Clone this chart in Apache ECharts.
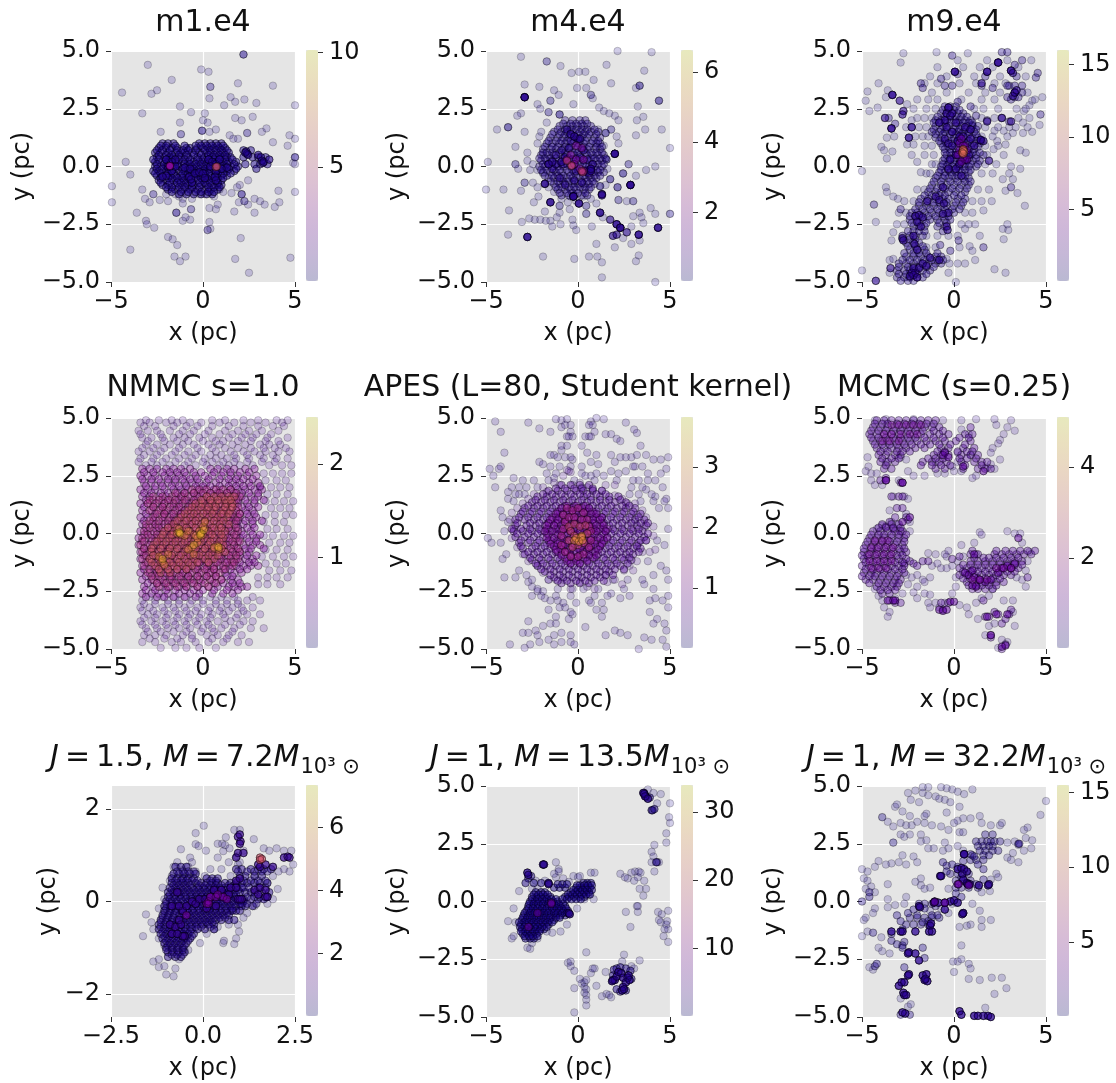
<!DOCTYPE html>
<html><head><meta charset="utf-8">
<style>html,body{margin:0;padding:0;background:#fff}#c{width:1116px;height:1083px}#c canvas{filter:blur(.55px)}</style>
<script src="https://cdn.jsdelivr.net/npm/echarts@6/dist/echarts.min.js"></script>
</head><body><div id="c"></div>
<script>
// ---------- values: flat x,y lists, or rows [y, x, x, ...] ----------
const m1Sparse=[-3,4.4,-.1,4.2,.3,4.1,2.2,4.85,2.2,4.85,2.2,4.85,-1.7,3.75,1.9,3.6,3.8,3.5,-4.4,3.2,-2.8,3.15,-2.5,3.3,.4,3.45,.4,3.45,.35,2.95,1.5,3,1.75,2.8,2.25,2.9,2.9,2.75,1.15,2.65,5,2.65,-1.25,2.6,-3.3,2.3,-.65,2.35,.1,2.3,2.7,2.15,1.75,2.1,2.1,2,0,2,.25,1.9,-1.25,1.9,-.05,1.55,-.05,1.55,-.05,1.55,.7,1.6,.35,1.5,-2.3,1.5,-1.2,1.4,-1.2,1.4,2.4,1.45,2.4,1.45,3.2,1.5,3.45,1.65,4.7,1.35,5,1.2,3.8,1.05,4.6,.9,1.45,1.35,1.9,1.2,1.65,1.2,-4.2,.2,-3.95,-.35,-4.95,-.85,-4.95,-1.55,-3.3,-1,-3.15,-1.4,-2.9,-1.55,-3.6,-2,-2.7,-1.2,-2.7,-1.2,-2.35,-1.45,-1.9,-1.5,-1.45,-2,-1.45,-2,-1.45,-2,-.65,-1.85,-.65,-1.85,-1.1,-2.35,-.7,-2.3,-.95,-2.2,-3.1,-2.35,-3.05,-2.5,-2.65,-2.65,.35,-2.4,.4,-2.7,.25,-2.75,.25,-2.75,-3.95,-3.6,-1.9,-3.05,-1.65,-3.15,-1.4,-3.4,-1.55,-3.9,-.95,-3.9,-1.25,-4.1,2.05,-3.1,1.75,-4,2.5,-4.6,4.75,-3.95,1.7,-1.95,2.8,-2,2.45,-1.65,2.1,-1.2,2.1,-1.2,2.1,-1.2,2.25,-1.5,2.25,-1.5,1.95,-1.55,2.8,-1.4,3.1,-1.5,3.35,-1.65,3.9,-1.75,4.15,-1.55,4.1,-1.05,5,-1.1,2.45,-.6,2,-.8,1.85,-.9,1.55,-1.15,1.1,-1.1,.8,-1.65,.7,-1.85,.35,-1.8,5,.4,5,.4,5,.4,4.9,.15,5,.1,-1.5,-1.2,-1.3,-1.3,-1.1,-1.4,-.9,-1.1,-.6,-1.4,-.2,-1.2,.1,-1.2,.4,-1.1,.6,-1.3,-2,-1.2,-1.7,-1,-1.1,-1.6,-.6,-.95,.9,-1];
const m1Rows=[[1,-2.2,-1.9,-1.6,-.2,.1,.4,.7,1],[.8,-2.4,-2,-1.7,-1.4,-.9,-.7,-.3,0,.3,.6,.9,1.2],[.6,-2.6,-2.3,-1.9,-1.5,-1.2,-1,-.6,-.2,.2,.4,.8,1.1,1.4],[.4,-2.5,-2.1,-1.8,-1.6,-1.2,-.8,-.3,.1,.5,.7,1,1.3,1.5],[.2,-2.6,-2.2,-1.9,-1.5,-1.1,-.8,-.5,-.2,.1,.4,.8,1.1,1.4,1.8],[0,-2.6,-2.3,-2,-1.6,-1.3,-.9,-.6,-.3,0,.3,.6,.9,1.2,1.5,1.9],[-.2,-2.7,-2.4,-2,-1.7,-1.3,-1,-.7,-.4,0,.2,.6,.9,1.3,1.7],[-.4,-2.5,-2.2,-1.8,-1.5,-1.2,-.9,-.5,-.2,.1,.4,.7,1,1.3],[-.6,-2.4,-2,-1.6,-1.3,-1,-.7,-.3,0,.3,.6,1],[-.8,-2.2,-1.9,-1.5,-1.1,-.8,-.5,-.1,.2,.5,.8,1],[-1,-1.9,-1.5,-1.1,-.7,-.3,.1,.4,.8],[-1.2,-1.3,-.9,-.5,-.1,.2,.5],[.7,2.2,2.6],[.4,2.2,2.7,3,3.4],[.1,2.3,2.8,3.1,3.5],[-.1,2.9]];
const m1Rows2=[[.9,-2.3,-2,-1.5,-1,-.4,-.1,.2,.5,.8,1.1],[.7,-2.5,-2.2,-1.8,-1.4,-1.1,-.8,-.4,.1,.4,.7,1,1.3],[.5,-2.4,-2,-1.7,-1.3,-.9,-.5,-.1,.3,.6,.9,1.2],[.3,-2.7,-2.4,-2,-1.7,-1.3,-1,-.7,-.3,0,.3,.6,.9,1.2,1.6],[.1,-2.5,-2.1,-1.8,-1.4,-1,-.7,-.4,-.1,.2,.5,.7,1,1.3,1.7],[-.1,-2.5,-2.2,-1.9,-1.5,-1.1,-.8,-.5,-.2,.1,.4,.7,1.1,1.4,1.8],[-.3,-2.6,-2.3,-1.9,-1.6,-1.1,-.8,-.6,-.3,.1,.3,.8,1.1,1.5],[-.5,-2.3,-1.9,-1.7,-1.4,-1.1,-.8,-.4,-.1,.2,.5,.8,1.1],[-.7,-2.3,-1.8,-1.4,-1.2,-.9,-.6,-.2,.1,.4,.8],[-.9,-2,-1.7,-1.3,-1,-.6,-.2,.3,.6,.9],[-1.1,-1.7,-1.2,-.8,-.4,-.1,.3,.6]];
const m1Clump=[-2,.3,-1.9,0,-1.7,.2,-1.5,.3,-1.7,-.2,-2,-.4,-1.5,0,-2.2,-.45,-1,-.05,-.7,-.1,-.75,-.45,-.6,-.7,-.65,-.55,-.45,-.3,-.2,-.25,0,-.3,.1,-.5,.3,.3,.4,0,.5,.2,.7,.1,.7,-.2,.65,-.45,.7,-.6,1.3,-.05,1,-.1,.9,.3,2.35,.65,2.4,.55,2.45,.5,2.3,.6,3,.5,3.15,.4,3.2,.25,3.25,.15,3.3,.2,3.6,.3];
const m1Hot=[-1.8,.02,-1.8,.02,-1.8,.02];
const m1Hot2=[.7,-.02,.75,0];

const m4Sparse=[-3.1,4.75,-1.7,4.55,-1.7,4.55,-.95,4.35,-.35,4.05,.05,4.1,.4,4.1,1.55,4.4,2.15,5,4,4.95,3.6,4.15,-2.9,3.55,-2.1,3.45,-1.3,3.3,-1.05,3.1,-.05,3.4,.45,3.4,.85,3.75,1.8,3.6,3.35,3.5,3.35,3.5,3.35,3.5,3.15,3.4,.7,3.1,.7,3.1,.8,2.95,-1.5,2.85,-1.5,2.85,4.4,2.85,4.4,2.85,4.4,2.85,-2.2,2.7,-2.05,2.5,-1.6,2.35,-1.6,2.35,-.25,2.7,1.15,2.55,1.4,2.4,1.7,2.3,2,2.2,2.2,2,3.25,2.6,-3.1,2.3,-3.3,2.2,3.2,2,3.55,2.15,-1,2.25,-1,2.25,-1,2.25,-4.4,1.6,-3.8,1.7,-3.8,1.7,-3.8,1.7,-2.9,1.5,3.65,1.6,3.15,1.35,4.55,1.6,5,.8,2.1,1.3,2.2,1,1.8,1.6,1.8,1.6,1.5,1.45,1.5,1.45,1.5,1.45,-3.4,.85,-2.75,.6,-4.9,.2,-3.4,.1,-3.4,.1,-3.25,-.1,-2.75,.25,-2.45,.1,-2.6,-.15,-2.2,-.15,4.2,0,3.7,-.15,3.15,-.4,2.75,.1,2.75,.1,2.45,-.3,2.45,-.3,2.45,-.3,1.55,.3,1.55,.3,1.55,.3,1.75,-.55,1.75,-.55,1.75,-.55,2.15,-.9,2.15,-.9,2.15,-.9,2.2,-1.45,2.2,-1.45,3,-1.5,3,-1.5,2.65,-1.5,1.2,-.85,1.2,-.85,1.2,-.85,-5,-1,-4.05,-1,-3.1,-1.05,-2.9,-.7,-2.9,-.7,-2.45,-.7,-2.2,-.9,-2.4,-1.55,-2.15,-1.3,-3.75,-1.9,-1,-1.7,-1,-1.7,-.55,-1.55,-.45,-1.85,.45,-1.7,.45,-1.7,-1.8,-1.95,-1,-2,-1.15,-2.2,-1.5,-2.35,-1.75,-2.35,-2.05,-2.3,-2.35,-2.3,-2.65,-2.25,-3.05,-2.4,-1.4,-2.6,-.95,-2.5,-.3,-2.3,-.25,-2.55,-.1,-2.75,.75,-2.6,.45,-2.05,.45,-2.05,1.35,-2.2,2.45,-3.1,2.9,-2.6,3,-2.15,3.35,-2,3.45,-2.2,3.55,-2.45,3.95,-1.8,4.2,-2.05,5,-2.05,5,-2.05,3.35,-3.2,-3.8,-2.95,1,-3.35,2,-3.5,2.9,-3.35,3.3,-3.85,3.15,-4.1,-1.9,-3.9,-.2,-4,.6,-3.9,1.05,-3.9,1.3,-4.15,1.3,-4.8,4.2,-5,-1.3,-1.1,-.9,-1.4,-.4,-1.3,-.1,-1.5,.3,-1.3,.7,-1.4,1,-1.6,-1.6,-.9,-1.9,-.3,-1.9,.5,-2.2,1,-2.1,1.3,-2,1.5,-1.7,1.9,1.4,.9,1.1,1.6,1.6,-.1,1.5,-.8];
const m4Rows=[[2,-.7,-.3,.1,.4],[1.75,-1,-.6,-.3,0,.3,.7],[1.5,-1.3,-.9,-.6,-.3,.1,.4,.7,1.1],[1.25,-1.5,-1.1,-.8,-.5,-.1,.2,.5,.9,1.2],[1,-1.7,-1.4,-1,-.7,-.3,0,.3,.7,1,1.2],[.75,-1.9,-1.5,-1.2,-.8,-.5,-.1,.2,.5,.9,1.2],[.5,-2,-1.6,-1.3,-.9,-.6,-.2,.1,.5,.8,1.1,1.4],[.25,-2,-1.7,-1.4,-1,-.7,-.4,0,.3,.6,1,1.3],[0,-2.1,-1.8,-1.4,-1.1,-.8,-.4,-.1,.3,.6,.9,1.3],[-.25,-1.9,-1.5,-1.2,-.9,-.5,-.2,.2,.5,.8,1.1,1.4],[-.5,-1.6,-1.3,-.9,-.6,-.3,.1,.4,.7,1],[-.75,-1.3,-1,-.7,-.3,0,.3,.6,.9],[-1,-1.1,-.7,-.4,-.1,.3,.6],[-1.25,-.9,-.5,-.2,.2,.5]];
const m4Rows2=[[1.85,-.8,-.4,-.1,.2,.5],[1.6,-1.1,-.7,-.4,-.1,.2,.5,.9],[1.4,-1.4,-1,-.7,-.4,0,.3,.6,1],[1.1,-1.6,-1.2,-.9,-.6,-.2,.1,.4,.8,1.1],[.85,-1.8,-1.4,-1.1,-.7,-.4,0,.3,.6,1,1.3],[.6,-1.9,-1.7,-1.4,-1,-.7,-.3,0,.4,.7,1,1.3],[.35,-2.1,-1.8,-1.5,-1.2,-.8,-.5,-.1,.2,.7,.9,1.2,1.5],[.1,-1.9,-1.6,-1.2,-.9,-.6,-.2,.1,.4,.8,1.1,1.4],[-.15,-2,-1.7,-1.3,-1,-.6,-.3,0,.4,.7,1,1.2],[-.4,-1.8,-1.4,-1.1,-.8,-.4,-.1,.3,.6,.9,1.2],[-.65,-1.5,-1.1,-.8,-.5,-.2,.2,.5,.8],[-.9,-1.2,-.9,-.5,-.2,.1,.4,.7],[-1.15,-1,-.6,-.3,0,.4]];
const m4Clump=[-1.6,.1,-1.4,-.1,-1.2,.5,-1,-.5,-.9,.7,-.8,.1,-.7,-.8,-.6,1.6,-.5,.8,-.4,1.1,-.3,.3,-.2,1.3,-.2,-.6,0,1.2,.1,.4,.2,-.7,.3,.7,.4,-.2,.6,-.3,.7,-.1,.8,.1,-.1,-.2,-1.2,.1,.5,.3];
const m4Dark=[-2.9,3,-2.9,3,-2.9,3,2,.55,2,.55,2,.55,2.85,-.8,2.85,-.8,2.85,-.8,1.3,-1.2,1.3,-1.2,1.3,-1.25,-1.8,-.75,-1.8,-.75,-1.5,-1.55,-1.5,-1.55,-.25,-1.3,-.25,-1.3,-.25,-1.3,.05,-1.6,.05,-1.6,1.2,-2,1.2,-2,1.75,-2.3,2.1,-2.5,2.1,-2.5,2.3,-2.65,2.3,-2.65,2.3,-2.65,2.65,-2.85,1.9,-3,2.1,-2.95,3.3,-2.95,3.3,-2.95,4.35,-2.65,4.35,-2.65,-2.75,-3.05,-2.75,-3.05,-.4,1.4,-.2,1.3,.1,1.2,-.7,.4,-.9,.2,-1.6,.1,-1.4,.2,.7,-.1,.7,-.2];
const m4Hot=[-.6,.3,-.4,.5,-.2,.1,.2,.8,-.1,.3,.1,-.1,.3,.3,.3,-.2,-.1,.9];
const m4Hot2=[-.35,.05,-.35,.02,.25,-.25,.2,-.2,-.6,.25];

const m9Sparse=[-2.75,4.9,-2.9,4.5,-.95,4.95,.75,4.9,-4.1,3.6,-4.7,3.25,-4.8,2.85,-4.6,2.4,-4.15,2.55,-3.6,3.3,-3.7,3,-2.55,2.7,-2.3,2,-3.65,1.25,-3.25,1.3,-3.95,.85,-3.8,.7,-3.65,.35,-3.35,.65,-2.55,.95,-2.2,.95,-2.3,.5,-2,.2,-1.8,-.25,-5,-.2,4.2,4.6,4.8,3,4.65,1.8,4.25,2.85,4.1,2.65,3.8,2.4,3.75,1.9,3.35,1.7,3.2,1.45,3.75,1.45,4.25,1.5,3.6,.7,3.9,.6,2.7,1.55,2.2,1.55,2.35,1.1,2.8,.95,2.15,.75,3.1,0,3.6,-.1,3,-.3,2.65,-.55,3.2,-.55,2.8,-1.05,3.45,-1.15,3.85,-1.7,2.05,-1.5,1.6,-1.9,1.15,-2.5,.6,-2.7,2.65,-2.7,2.95,-2.75,2.9,-2.5,2.7,-3.15,1.4,-3,.85,-3.45,1,-3.65,1.15,-4.05,.6,-4.2,.2,-4.2,-.25,-4.2,2.2,-4.45,2.8,-4.6,.1,-5,-3.7,-.9,-3.65,-1.1,-3.3,-1.3,-3.05,-1.4,-4.25,-2.4,-3.3,-2.85,-3.4,-3.2,-3.5,-4.05,-5,-4.5];
const m9SparseRows=[[4.6,.2,1.8,2.9],[4.3,-.9,.5,1.4,2.1,3.5],[3.9,-1.3,-.4,1.1,2.5,3.9],[3.6,-1.6,-.9,.3,1.2,2.2,2.8],[3.2,-1.2,-.4,.8,1.7,2.5,4],[2.9,-2,-1.4,-.9,.4,1.5,2.2,4.4],[2.5,-2.2,-1.5,-1,1.1,1.6,2.4,3.4,3.9],[2.1,-2,-1.6,-1.2,1.5,2.2,3.5,4.1],[1.7,-2.6,-1.9,-1.5,1.7,2.4,3,4],[1.3,-2.1,-1.7,-1.4,1.5,2.1,2.9],[.9,-1.6,-1.2,1.7,2.4],[.5,-1.6,-1.1,1.8,2.7],[.1,-1.2,-1,1.7,2.3],[-.3,-1.5,-1.3,1.5,2.1],[-1,-2,-1.6,1.3,1.9],[-1.5,-2.7,-2.2,1,1.5],[-2,-3,-2.6,.6,1],[-2.5,-3.1,-2.7,.4,.8],[-3,-1.5,-.9,-.3,.2],[-3.5,-1.5,-1,.3],[-4,-3.3,-.4],[-4.6,-3.5,-.3]];
const m9Mid=[-.1,4.8,3.7,4.6,4.55,4.05,4.45,3.85,4.7,2.25,3.1,-.9,1.6,-3.5,.25,-3.2,-.2,-3.65,-.75,-3.4,-4.35,-1.65,-2.9,-1.85,-2.45,1.25,-2.3,1.7,-3.2,1.85,-3.55,2.1,-1.8,3.6,-1.7,3.4,-.7,3.8,-.5,3.5,-.1,3.5,.2,4,1.5,3.5,1.7,3.9,2.1,3.4,2.4,4.5,2.6,4.95,2.9,4.95,3.3,4.4,3.4,3.9,3,3.5,3.1,2.9,3.7,3.2,2.6,2.1,3,1.95,1.8,2,1.2,2.2,1,1.8,.9,2.6,.2,2.8];
const m9Rows=[[2.6,-.5,-.2,.1],[2.3,-.7,-.4,-.1,.2,.5],[2,-1,-.7,-.4,0,.3,.6,.9],[1.75,-1,-.6,-.3,.1,.4,.7,1,1.3],[1.5,-1.2,-.8,-.5,-.1,.2,.5,.8,1.1],[1.25,-1,-.7,-.3,0,.3,.7,1,1.3],[1,-.7,-.4,0,.4,.7,1,1.4],[.75,-.5,-.2,.1,.5,.8,1.1],[.5,-.4,-.1,.2,.5,.9,1.2,1.6],[.25,-.6,-.3,.1,.4,.7,1,1.4],[0,-.7,-.4,-.1,.2,.5,.8,1.2],[-.25,-.8,-.5,-.2,.1,.4,.8],[-.5,-1,-.6,-.3,.1,.5,.8],[-.8,-1.2,-.7,-.4,0,.4,.8],[-1.1,-1.4,-1,-.7,-.3,.1,.6],[-1.4,-1.8,-1.4,-1,-.6,-.3,.2,.6],[-1.7,-1.9,-1.5,-1.1,-.7,-.4,0,.4],[-2,-2.3,-2,-1.6,-1.2,-.8,-.4,0],[-2.3,-2.4,-2,-1.7,-1.3,-.9,-.5,-.2],[-2.6,-2.2,-1.9,-1.6,-.9,-.5],[-3,-2.8,-2.4,-2.1,-1.7],[-3.3,-2.6,-2.2,-1.9],[-3.6,-2.4,-2,-1.6],[-3.9,-2.6,-2.2,-1.8,-1.4,-1,-.7],[-4.2,-3,-2.6,-2.2,-1.8,-1.4,-1,-.7],[-4.5,-3.1,-2.7,-2.4,-2.1,-1.7,-1.3],[-4.8,-3.1,-2.7,-2.4,-2,-1.7],[3.5,2.9,3.3,3.7],[3,2.9,3.3,3.5]];
const m9Rows2=[[2.45,-.6,-.3,0,.3],[2.15,-.9,-.5,-.2,.1,.4,.7],[1.9,-1.1,-.8,-.5,-.2,.2,.5,.8,1],[1.6,-1.1,-.7,-.4,0,.3,.6,.9,1.2],[1.4,-1,-.6,-.2,.1,.4,.8,1.2],[1.1,-.8,-.5,-.1,.2,.5,.8,1.2,1.5],[.85,-.6,-.3,.2,.6,.9,1.3],[.6,-.5,-.2,.1,.4,.7,1,1.4],[.35,-.5,-.2,0,.3,.6,.8,1.2],[.1,-.6,-.3,0,.3,.6,.9,1.3],[-.15,-.7,-.3,0,.3,.6,.9],[-.4,-.9,-.5,-.1,.2,.6],[-.65,-1.1,-.7,-.2,.2,.6,.9],[-.95,-1.3,-.9,-.5,-.1,.3,.7],[-1.25,-1.6,-1.2,-.8,-.5,0,.4],[-1.55,-1.9,-1.5,-1.1,-.8,-.4,.1,.5],[-1.85,-2.1,-1.7,-1.3,-.9,-.5,-.1,.3],[-2.15,-2.4,-2.1,-1.8,-1.4,-1,-.6,-.3],[-2.45,-2.3,-1.9,-1.5,-.8,-.4],[-2.8,-2.5,-2.2,-1.9,-1.6,-.6],[-3.15,-2.8,-2.4,-2.1],[-3.45,-2.5,-2.1,-1.7],[-3.75,-2.7,-2.2,-1.9,-1.5,-.9],[-4.05,-2.8,-2.4,-2,-1.6,-1.2,-.9,-.6],[-4.35,-3,-2.5,-2.2,-1.9,-1.5,-1.1],[-4.65,-3,-2.6,-2.3,-2,-1.5],[-4.95,-2.9,-2.5,-2.2]];
const m9Clump=[-3.35,3.1,-3.35,3.1,-2.95,2.85,-2.75,2.4,-2.8,2.25,-3.75,2.1,-3.4,1.65,-3.4,1.65,-2.3,1.7,-2.45,1.25,.05,4.1,.05,4.1,1.8,4.1,1.8,4.1,1.5,3.6,2.4,4.5,2.4,4.5,3.1,4.15,3.1,4.15,3.2,4.05,3.3,3.2,3.3,3.2,3.2,3.05,3.4,3.3,3.1,1.95,2.6,2.1,1.8,1.95,1.45,1.15,1.45,1.15,1.6,1.1,1.9,.25,-.3,2.55,-.3,2.55,-.4,2.3,-.2,2.2,-.5,2,-.4,1.7,-.1,2.3,-.8,1.9,-.1,1.5,.1,1.9,.3,1.3,.6,1.7,.9,1.6,-.5,1.2,-.3,1,-.1,.9,.2,1.1,.5,1.3,.9,1.2,1.1,.9,-.2,.3,.1,.5,.3,.1,.6,.3,.8,.5,-.3,-.1,.1,-.1,.4,-.4,-.6,-.9,-1,-1.3,-.8,-1.45,-1.45,-1.5,-.55,-1.6,-.3,-2,-.6,-2.05,-.4,-2.6,-.35,-2.75,-2.1,-2.15,-1.9,-2.1,-2,-2.4,-1.7,-2.2,-1.8,-2.6,-2.8,-3.1,-2.75,-3.2,-2.2,-3,-2.15,-3.35,-2,-3.6,-2.2,-4.4,-2.1,-4.6,-2.3,-4.6,-2.2,-4.7,-2,-4.8,-2.4,-4.75,-1.9,-4.4,-1.7,-4.2,-1.5,-4.3,-1.3,-3.95,-3.45,-4.4,-4.25,-4.95,-.8,-4.05];
const m9Hot=[.3,1,.4,1.2,.5,.9,.6,.9,.3,.7,.7,.7,.2,.5,.5,.4,.7,.3,.4,.2];
const m9Hot2=[.5,.75,.5,.7,.55,.65,.45,.6,.5,.55];

const nmOuterRows=[[4.9,-3.1,-2.4,-1.7,-1.1,.5,1.2,2.2,3,4,4.6],[4.8,-3.4,-2.9,-2,-1.4,-.7,-.1,.9,1.7,2.6,3.4,4.3],[4.45,-3.5,-3,-2.5,-1.8,-1.1,-.5,.3,1.2,1.9,2.5,3.2,4.1],[4.15,-3.3,-2.8,-2.2,-1.6,-1,-.2,.5,1.4,2.1,2.7,3.5,4.6],[3.85,-3.1,-2.5,-1.8,-1.1,-.5,.3,.9,1.6,2.3,3.1,3.6,4.2],[3.55,-3.5,-2.9,-2.3,-1.5,-.8,-.1,.7,1.5,2.2,2.8,3.4,4.1,4.7],[3.25,-3.4,-2.7,-2,-1.3,-.6,.1,.7,1.3,1.8,2.5,3.3,4,4.6],[2.95,-3.1,-2.5,-1.8,-1,-.4,.2,.9,1.4,2,2.7,3.6,4.3,4.8],[2.6,3.3,3.8,4.3,4.8],[2.3,3.4,4,4.5],[2,3.1,3.7,4.2,4.7],[1.7,3.5,4,4.6],[1.4,3.4,3.9,4.4,4.9],[1.1,3.7,4.2,4.7],[.8,3.4,3.9,4.5,4.9],[.5,3.3,3.9,4.4],[.2,3.5,4,4.6],[-.1,3.3,3.8,4.4,4.9],[-.4,3.6,4.2,4.7],[-.7,3.4,4,4.6],[-1,3.2,3.8,4.4,4.9],[-1.3,3.4,4,4.5],[-1.6,3.6,4.2,4.8],[-1.9,3,3.5,4,4.6],[-2.2,3,3.5,4.2],[-2.9,-3.3,-2.6,-1.9,-1.3,-.6,0,.7,1.3,1.9,2.4,3.1],[-3.2,-3.4,-2.9,-2.2,-1.6,-1,-.3,.4,1,1.6,2.1,2.7],[-3.5,-3,-2.5,-1.9,-1.3,-.7,-.1,.5,1.1,1.9,2.4,3.1],[-3.8,-3.4,-2.8,-2.2,-1.6,-1,-.4,.2,.8,1.5,2.2,2.7],[-4.1,-3.1,-2.5,-1.9,-1.3,-.7,0,.5,1,1.7,2.6,3.3],[-4.4,-3.2,-2.6,-2,-1.1,-.6,.2,.8,1.4,2.1],[-4.7,-3.3,-2.6,-1.7,-1.2,-.4,.3,1.1,1.9,2.5],[-4.95,-2.3,-1.5,-.9,-.2,.7]];
const nmOuterRows2=[[4.65,-3.2,-2.6,-1.6,-.9,-.3,.5,1.4,2.2,3,3.8,4.4],[4.3,-3.4,-2.3,-1.3,-.7,.1,.9,1.6,2.3,2.9,3.7],[4,-3,-2.1,-1.4,-.8,0,.7,1.1,1.9,2.6,3.4,4.1],[3.7,-3.3,-2.7,-2.1,-1.3,-.3,.5,1.2,1.9,2.6,3.3,3.9,4.5],[3.4,-3.2,-2.5,-1.7,-1,-.4,.4,1,1.7,2.4,3.1,3.8],[3.1,-3.5,-2.8,-2.2,-1.5,-.8,0,.5,1.1,1.7,2.4,3.2,3.9],[-2.75,-2.9,-2.2,-1.5,-.9,-.2,.4,1,1.7,2.7],[-3.05,-3.2,-2.6,-1.9,-1.3,-.7,0,.7,1.3,1.9],[-3.35,-3.3,-2.7,-2.1,-1.5,-.9,-.4,.3,.9,1.4,2.2],[-3.65,-3.2,-2.6,-2,-1.4,-.8,-.2,.4,1.2,1.8],[-3.95,-3.3,-2.6,-2,-1.5,-.9,-.3,.3,1.2,2],[-4.25,-3,-2.3,-1.6,-.9,-.1,.6,1.6],[-4.55,-2.9,-2.1,-1.4,-.6,.5,1.3]];
const nmPurpleRows=[[2.8,-3.3,-2.9,-2.5,-2,-1.6,-1.2,-.7,.4,.8,1.3,1.7,2.3,2.8],[2.5,-3.4,-3,-2.6,-2.1,-1.7,-1.3,-.9,-.4,.1,.5,1,1.5,1.9,2.4,2.9],[2.2,-3.2,-2.8,-2.3,-1.9,-1.5,-1,-.6,-.2,.2,.7,1.2,1.6,2,2.5,3],[1.9,-3.4,-3,-2.6,-2.1,-1.6,-1.2,-.8,-.3,.1,.6,1,1.5,1.9,2.3,2.8,3.2],[1.6,-3.3,-2.9,-2.4,-2,-1.5,-1.1,-.6,-.2,.3,.8,1.2,1.7,2.1,2.6,3],[1.3,-3.4,-3,-2.5,-2.1,-1.7,-1.3,-.8,-.4,.1,.5,1,1.4,1.9,2.4,2.8],[1,-3.3,-2.8,-2.3,-1.9,-1.4,-1,-.5,0,.4,.9,1.3,1.8,2.3,2.7],[.7,-3.4,-3,-2.6,-2.1,-1.6,-1.2,-.7,-.3,.2,.7,1.1,1.6,2,2.5,2.9],[.4,-3.3,-2.8,-2.4,-1.9,-1.5,-1,-.6,-.1,.4,.9,1.3,1.8,2.2,2.7],[.1,-3.4,-3,-2.5,-2,-1.6,-1.1,-.7,-.2,.3,.7,1.2,1.6,2.1,2.6],[-.2,-3.5,-3.1,-2.6,-2.2,-1.7,-1.3,-.8,-.3,.1,.6,1,1.5,2,2.4,2.9],[-.5,-3.5,-3,-2.5,-2,-1.6,-1.1,-.6,-.2,.3,.8,1.2,1.7,2.2,2.7,3.1],[-.8,-3.4,-3,-2.6,-2.1,-1.7,-1.2,-.8,-.3,.2,.6,1.1,1.6,2,2.5],[-1.1,-3.4,-2.9,-2.4,-2,-1.5,-1,-.6,-.1,.4,.9,1.3,1.8,2.3,2.7],[-1.4,-3.3,-2.8,-2.3,-1.9,-1.4,-1,-.5,0,.4,.9,1.4,1.8,2.2,2.6,3],[-1.7,-3.4,-2.9,-2.5,-2,-1.6,-1.1,-.7,-.2,.3,.7,1.2,1.7,2.1],[-2,-3.3,-2.8,-2.3,-1.8,-1.4,-.9,-.5,0,.5,1,1.5,1.9],[-2.3,-3.2,-2.7,-2.2,-1.8,-1.3,-.9,-.3,.3,.8,1.4,1.7,2.1,2.4],[-2.6,-3.3,-2.8,-2.4,-1.9,-1.3,-.7,-.2,.5,1.1,1.6]];
const nmPurpleRows2=[[2.65,-3.2,-2.7,-2.2,-1.8,-1.4,-1,-.5,-.1,.6,1.1,1.5,2,2.5],[2.35,-3.3,-2.8,-2.4,-1.9,-1.5,-1.1,-.7,-.3,.3,.9,1.4,1.8,2.2,2.7],[2.05,-3.1,-2.6,-2.2,-1.7,-1.3,-.9,-.4,0,.4,.9,1.4,1.8,2.2,2.6,3.1],[1.75,-3.2,-2.8,-2.3,-1.9,-1.4,-1,-.5,-.1,.4,.8,1.3,1.7,2.1,2.5,3],[1.45,-3.1,-2.7,-2.2,-1.8,-1.3,-.9,-.4,.1,.5,1,1.5,1.9,2.3,2.8,3.3],[1.15,-3.2,-2.7,-2.2,-1.6,-1.2,-.7,-.2,.2,.7,1.2,1.6,2.1,2.5,3],[.85,-3.1,-2.6,-2.1,-1.7,-1.2,-.8,-.3,.2,.6,1.1,1.5,2,2.4,2.8],[.55,-3.2,-2.7,-2.2,-1.7,-1.3,-.8,-.4,.1,.6,1,1.5,1.9,2.3,2.7,3.2],[.25,-3.1,-2.6,-2.2,-1.7,-1.3,-.9,-.4,.1,.5,1,1.4,1.9,2.4,2.8],[-.05,-3.2,-2.8,-2.3,-1.8,-1.4,-.9,-.5,0,.4,.9,1.3,1.8,2.2,2.7,3.1],[-.35,-3.3,-2.8,-2.3,-1.8,-1.4,-.9,-.4,0,.5,1,1.4,1.9,2.5,2.9],[-.65,-3.2,-2.8,-2.3,-1.9,-1.4,-1,-.5,-.1,.4,.9,1.3,1.8,2.3,2.6,3.3],[-.95,-3.2,-2.7,-2.3,-1.8,-1.3,-.8,-.4,.1,.5,1,1.5,2,2.4,2.9],[-1.25,-3.1,-2.6,-2.2,-1.7,-1.2,-.7,-.2,.2,.7,1.2,1.6,2,2.5,2.8],[-1.55,-3.2,-2.6,-2.2,-1.7,-1.2,-.8,-.3,.2,.6,1.1,1.5,2,2.4],[-1.85,-3.1,-2.6,-2.1,-1.7,-1.2,-.8,-.3,.2,.7,1.3,1.6],[-2.15,-3,-2.5,-2.1,-1.6,-1.1,-.6,-.1,.6,1.1,1.6,2],[-2.45,-3.1,-2.6,-2,-1.5,-1,-.5,0,.6,1.3,1.9],[-2.75,-3.1,-2.5,-2.1,-1.6,-1,-.4]];
const nmRedRows=[[1.9,-.6,-.2,.2,.7,1.1,1.5],[1.6,-2.7,-2.2,-1.7,-1.2,-.8,-.3,.2,.7,1.1,1.6,2],[1.3,-3,-2.6,-2.1,-1.6,-1.1,-.6,-.2,.3,.7,1.2,1.7],[1,-2.9,-2.4,-2,-1.5,-1,-.6,-.1,.4,.8,1.3,1.8],[.7,-2.7,-2.2,-1.8,-1.3,-.9,-.4,.1,.6,1,1.5,1.9],[.4,-3.1,-2.6,-2.1,-1.7,-1.2,-.7,-.3,.2,.7,1.2,1.7],[.1,-3.2,-2.7,-2.2,-1.8,-1.4,-.9,-.4,.1,.5,1,1.5,1.9],[-.2,-3.3,-2.8,-2.4,-1.9,-1.5,-1,-.5,-.1,.4,.9,1.4,1.8],[-.5,-3.4,-2.9,-2.4,-2,-1.5,-1,-.6,-.1,.3,.8,1.3,1.7],[-.8,-3.3,-2.9,-2.5,-2,-1.6,-1.1,-.7,-.2,.3,.7,1.2,1.6,2],[-1.1,-3.3,-2.8,-2.3,-1.8,-1.4,-.9,-.4,0,.5,1,1.5,1.9],[-1.4,-3.2,-2.7,-2.2,-1.7,-1.3,-.8,-.3,.2,.6,1.1,1.6],[-1.7,-3,-2.5,-2,-1.5,-1.1,-.6,-.1,.4,.9],[-2,-2.7,-2.2,-1.7,-1.2,-.7,-.2,.4,1],[-2.3,-2.4,-1.9,-1.4,-.9,-.3,.3]];
const nmRedRows2=[[1.75,-1.5,-1,-.5,0,.4,.9,1.3,1.8],[1.45,-2.9,-2.4,-1.9,-1.5,-1,-.5,0,.4,.9,1.4,1.8],[1.15,-2.7,-2.2,-1.8,-1.3,-.8,-.4,.1,.6,1,1.5,1.9],[.85,-2.5,-2.1,-1.6,-1.2,-.7,-.3,.2,.7,1.1,1.6,2],[.55,-2.9,-2.4,-1.9,-1.5,-1,-.6,-.1,.4,.9,1.4,1.8],[.25,-2.9,-2.4,-1.9,-1.5,-1,-.5,0,.5,.9,1.4,1.8],[-.05,-3,-2.5,-2,-1.6,-1.2,-.7,-.2,.3,.7,1.2,1.7],[-.35,-3.2,-2.6,-2.2,-1.7,-1.2,-.8,-.3,.2,.6,1.1,1.6,2],[-.65,-3.2,-2.7,-2.2,-1.8,-1.3,-.8,-.4,.1,.5,1,1.5,1.9],[-.95,-3.1,-2.6,-2.2,-1.7,-1.3,-.9,-.4,0,.5,.9,1.4,1.8],[-1.25,-3,-2.5,-2,-1.6,-1.1,-.6,-.2,.3,.8,1.3,1.7],[-1.55,-2.9,-2.4,-1.9,-1.4,-.9,-.4,.1,.6,1.2],[-1.85,-2.8,-2.4,-1.8,-1.3,-.8,-.3,.2,.7],[-2.15,-2.5,-2,-1.5,-1,-.5,.1,.7]];
const nmOrangeRows=[[1.6,.2,.6,1,1.4,1.7],[1.3,-.4,0,.5,.9,1.3,1.6],[1,-.8,-.3,.2,.6,1.1,1.5],[.7,-1.2,-.7,-.2,.3,.8,1.3],[.4,-1.6,-1.1,-.6,-.1,.4,.9,1.4],[.1,-2.1,-1.6,-1.1,-.7,-.2,.3,.8,1.2],[-.2,-2.3,-1.8,-1.3,-.8,-.4,.1,.6,1.1],[-.5,-2.7,-2.2,-1.7,-1.2,-.7,-.2,.3,.7,1.1],[-.8,-2.8,-2.4,-1.9,-1.5,-1,-.5,0,.5,.9,1.2],[-1.1,-2.9,-2.4,-1.9,-1.4,-1,-.5,.1,.6],[-1.4,-2.6,-2.1,-1.6,-1.1,-.6],[-1.7,-2.3,-1.8]];
const nmOrangeRows2=[[1.45,-.1,.4,.8,1.2,1.5],[1.15,-.6,-.1,.3,.7,1.2,1.6],[.85,-1,-.5,0,.5,1,1.4],[.55,-1.4,-.9,-.4,.1,.6,1.1],[.25,-1.9,-1.4,-.9,-.4,.1,.6,1],[-.05,-2.2,-1.7,-1.2,-.9,-.5,0,.5,1],[-.35,-2.5,-2,-1.5,-1,-.5,-.1,.4,.9],[-.65,-2.8,-2.3,-1.8,-1.4,-.9,-.4,.1,.6,1],[-.95,-2.7,-2.2,-1.7,-1.2,-.7,-.2,.3,.8],[-1.25,-2.8,-2.3,-1.8,-1.3,-.8,-.3,.3],[-1.55,-2.4,-1.9,-1.4,-.9]];
const nmHot=[-1.3,.2,-1.4,0,-1,-.1,-.8,.1,-.4,-.1,-.2,.1,-.1,-.1,0,.3,.1,.5,-.3,-.4,-.6,-.6,-.5,-.9,-.8,-.7,-.3,-.2,-2.4,-1,-2.2,-1.2,-2.1,-1.35,-1.9,-.9,.8,-.55,.85,-.7,.6,-.6];
const nmHot2=[-.1,0,-.15,-.05,.05,.15,-1.3,.05,-1.25,0,-2.2,-1.1,.85,-.6,-.5,-.5];

const apOuter=[-.6,4.95,-1.2,4.95,-.9,4.9,1,5,.7,4.85,1.4,4.95,2.6,4.8,-4.5,4.85,-4.2,4.4,-2.7,4.8,-2.1,4.55,-1.5,4.4,-.9,4.6,-.4,4.4,.6,4.2,.9,4.4,1.5,4.3,1.8,4.3,2.1,4.1,2.3,4,3.05,4.5,3.2,4.35,3.4,3.8,-4,3.5,-4.3,2.8,-4.2,2.9,-4.8,2.8,-4.6,2.5,-4.5,2,-.9,3.6,-1.3,3.4,-1.5,3.4,-2.1,3.1,-1.9,3,-.3,3.2,.5,3.5,1,3.4,.7,3.1,1.1,3,1.8,3.4,2,3.1,2.6,3.3,2.9,3.3,3.2,3.4,3.7,3.4,4.1,3.2,4.5,3.2,4.9,3.3,4.8,2.8,3.1,2.9,2.6,2.7,1.8,2.7,1.4,2.5,.7,2.5,-.2,2.3,-1.3,2.4,-2.2,2,-3.5,2.4,-3.6,2,-3.8,1.8,-3.2,1.7,-3.8,1.5,-4.2,1,-4.1,.7,-3.8,.5,-4,.1,-4.9,-.2,-4.7,-.4,-4.2,-.4,-3.9,-.9,-4.1,-1.1,-3.2,-1.6,-4,-1.9,-3.4,-1.9,-2.8,-1.8,-2.7,-2.1,-2.5,-2.3,-2.5,-2.7,-2.2,-2.5,-1.9,-2.5,-1.8,-2.8,-1.5,-2.9,-1.1,-2.9,-1.6,-3.3,-1,-3.2,-.7,-3.2,-.4,-3.4,-.3,-3.5,-.5,-3.7,-1.2,-3.6,-2.7,-3.8,-2.3,-4.2,-2.7,-4.3,-3,-4.3,-2.2,-4.4,-1.9,-4,-1.5,-3.9,-1.2,-3.9,-1.3,-4.4,-.9,-4.3,-.4,-4.4,-.9,-4.7,-.4,-4.7,-.2,-4.8,-3.7,-4.8,-2.9,-4.95,-2.6,-4.8,-2.1,-4.7,-1.6,-4.6,-1.3,-4.8,.4,-4.05,1,-3.3,1.3,-3.6,1.4,-3.3,.6,-2.9,.3,-2.4,1.3,-3,1.8,-2.6,2.3,-2.8,2.8,-2.7,3.9,-2.9,4.2,-2.8,4.6,-2.9,4.9,-2.7,4.9,-3.2,3.9,-3.4,4.3,-3.7,4.7,-3.9,4.1,-3.9,4.8,-4.2,4.6,-4.6,4,-4.6,3.6,-4.5,3.3,-5,2.7,-4.4,2.3,-4.3,2,-4.2,1.5,-4.4,4.8,-4.9,3.6,-2.2,4.1,-1.8,4.8,-1.6,4.9,-2,4.5,-1.4,3.8,-1.2,4.3,-.3,4.7,-.5,4.9,.2,4.4,1.1,4.8,1.5,4.9,1.1,4.2,1.6,3.7,1.9,3.8,2.3,3.3,2.3,.4,2.5,3.1,.5];
const apOuterRows=[[4.7,-.7,-.4,.6,.8],[4.2,-.6,-.5,-.3,.4,.7],[3.8,-.9,-.6,.2],[3.3,-1.1,-.7,-.4,2.3],[2.9,-1.5,-1,-.4,.2,3,3.5],[2.6,-1.7,-1.2,.2,1,2.2,3.8,4.5],[2.3,-3,-2.4,-1.6,.9,2.1,3,4.2],[2,-3.2,-2.8,.2,2.9,3.5,4.6],[1.7,-3.4,-2.9,2.8,3.3,4],[1.4,-3.5,3.4,4.1,4.7],[-2,-2.5,-1.6,1.9,2.7,3.5],[-2.4,-2.2,-1.1,-.3,1.1,2.5,4.1],[-2.7,-2,-1.2,-.4,.9,1.6],[-3,-.8,-.1,.7]];
const apRingRows=[[2.1,-.9,-.4,.1,.6],[1.85,-1.6,-1.1,-.6,-.1,.3,.8,1.3],[1.6,-2.2,-1.7,-1.2,-.7,-.2,.3,.7,1.2,1.7,2.2],[1.35,-2.5,-2,-1.5,-1,-.5,0,.5,1,1.5,2,2.6],[1.1,-2.9,-2.4,-1.9,-1.4,-.9,-.4,.1,.6,1.1,1.6,2.1,2.6,3.1],[.85,-3.1,-2.6,-2.1,-1.6,-1.1,-.6,-.1,.4,.9,1.4,1.9,2.4,2.9,3.4],[.6,-3.4,-2.9,-2.4,-1.9,-1.4,-.9,-.4,.1,.6,1.1,1.6,2.1,2.6,3.1,3.6],[.35,-3.4,-2.8,-2.3,-1.8,-1.3,-.8,-.3,.2,.7,1.2,1.7,2.2,2.7,3.2,3.7],[.1,-3.5,-3,-2.5,-2,-1.5,-1,-.5,0,.5,1,1.5,2,2.5,3,3.5],[-.15,-3.4,-2.9,-2.4,-1.9,-1.4,-.9,-.4,.1,.6,1.1,1.6,2.1,2.6,3.1,3.6],[-.4,-3.2,-2.7,-2.2,-1.7,-1.2,-.7,-.2,.3,.8,1.3,1.8,2.3,2.8,3.3],[-.65,-3,-2.5,-2,-1.5,-1,-.5,0,.5,1,1.5,2,2.5,3,3.4],[-.9,-2.9,-2.4,-1.9,-1.4,-.9,-.4,.1,.6,1.1,1.6,2.1,2.6,3],[-1.15,-2.5,-2,-1.5,-1,-.5,0,.5,1,1.5,2,2.5,2.9],[-1.4,-2.2,-1.7,-1.2,-.7,-.2,.3,.8,1.3,1.8,2.3],[-1.65,-1.8,-1.3,-.8,-.3,.2,.7,1.2,1.7],[-1.9,-1.3,-.8,-.3,.2,.7,1.2],[-2.15,-.9,-.4,.1,.6]];
const apRingRows2=[[1.95,-1.2,-.7,-.2,.2,.8],[1.7,-1.9,-1.4,-.9,-.4,.1,.5,1,1.5],[1.45,-2.3,-1.8,-1.3,-.8,-.3,.2,.7,1.2,1.7,2.3],[1.2,-2.7,-2.2,-1.7,-1.2,-.7,-.2,.3,.8,1.3,1.8,2.4,2.8],[.95,-3,-2.5,-2,-1.5,-1,-.5,0,.5,1,1.5,2,2.5,3],[.7,-3.2,-2.7,-2.2,-1.7,-1.2,-.7,-.2,.3,.8,1.3,1.8,2.3,2.8,3.3],[.45,-3.3,-2.6,-2.1,-1.6,-1.1,-.6,-.1,.4,.9,1.4,1.9,2.4,2.9,3.4,3.8],[.2,-3.6,-3.1,-2.6,-2.1,-1.6,-1.1,-.6,-.1,.4,.9,1.4,1.9,2.4,2.9,3.3],[0,-3.3,-2.7,-2.2,-1.7,-1.2,-.7,-.2,.3,.8,1.3,1.8,2.3,2.8,3.3,3.8],[-.3,-3.1,-2.6,-2.1,-1.6,-1.1,-.6,-.1,.4,.9,1.4,1.9,2.4,2.9,3.4,3.7],[-.55,-3.1,-2.3,-1.8,-1.3,-.8,-.3,.2,.7,1.2,1.7,2.2,2.7,3.2],[-.8,-2.7,-2.2,-1.7,-1.2,-.7,-.2,.3,.8,1.3,1.8,2.3,2.8,3.3],[-1.05,-2.6,-2.1,-1.6,-1.1,-.6,-.1,.4,.9,1.4,1.9,2.4,2.8],[-1.3,-2.3,-1.9,-1.4,-.9,-.4,.1,.6,1.1,1.6,2.1,2.7],[-1.55,-2,-1.5,-1,-.5,0,.5,1,1.5,2,2.5],[-1.8,-1.5,-1,-.5,0,.5,1,1.5,1.9],[-2.05,-1.1,-.6,-.1,.4,.9,1.4]];
const apRing=[-3.6,.9,-3.3,1.1,-3,1.3,-2.7,1.5,-2.4,1.7,-1.9,2,-1.7,1.8,-1.3,2.2,-1,2.1,-.8,2.5,-.5,2.7,-.4,2.65,-.6,2.75,-.3,2.1,.1,2.2,.5,2,.8,1.9,1.3,1.85,1.5,2.1,2,2.1,2.4,1.5,2,1.65,2.7,1.3,3.1,1.3,3.5,1,3.7,.7,3.2,.8,3.6,.3,4.1,.3,4.1,-.1,3.7,-.3,3.2,-.5,3.5,-.8,3.9,-.8,4.2,-.7,3.2,-1.2,2.8,-1.4,2.5,-1.6,3,-1.6,2.4,-2.2,2,-2,1.6,-2.1,1.5,-1.8,.9,-2.4,.5,-2.3,.1,-2.1,-.4,-2.4,-.8,-2,-1.2,-2,-1.6,-2,-1.9,-1.7,-2.2,-1.4,-2.7,-1.2,-3,-.9,-3.3,-.6,-3.6,-.2,-3.5,.2,-3.7,.6];
const apCoreRows=[[1.2,-.6,-.1,.4],[.95,-1.1,-.6,-.1,.4,.8],[.7,-1.4,-1,-.5,0,.5,1,1.3],[.45,-1.6,-1.2,-.7,-.2,.3,.8,1.3],[.2,-1.7,-1.2,-.7,-.2,.3,.8,1.2,1.6],[-.05,-1.6,-1.1,-.6,-.1,.4,.9,1.4],[-.3,-1.5,-1,-.5,0,.5,1,1.4],[-.55,-1.3,-.8,-.3,.2,.7,1.2],[-.8,-1.1,-.6,-.1,.4,.9],[-1.05,-.7,-.2,.3,.8],[-1.3,-.4,.1]];
const apCoreRows2=[[1.1,-.9,-.3,.2,.6],[.85,-1.2,-.8,-.3,.2,.7,1],[.6,-1.5,-1.1,-.7,-.2,.3,.8,1.2],[.35,-1.7,-1.3,-.9,-.4,.1,.6,1,1.4],[.1,-1.8,-1.4,-.9,-.4,.1,.6,1,1.5],[-.2,-1.7,-1.3,-.8,-.3,.2,.7,1.2,1.6],[-.45,-1.5,-1.1,-.7,-.2,.4,.9,1.3],[-.7,-1.2,-.9,-.4,.1,.6,1.1],[-.95,-.9,-.4,.1,.6,1],[-1.2,-.6,-.1,.5]];
const apHot=[-.8,.8,-.7,.5,-.6,1.1,-.3,1,0,1.1,.3,.9,.5,.6,.6,.3,.7,.1,.7,-.3,.6,-.6,.3,-.9,0,-1,-.4,-1,-.7,-.8,-.9,-.5,-.9,-.1,-.8,.2,-.5,.7,-.2,.7,.2,.6];
const apHot2=[-.5,.3,-.4,.1,-.2,.4,.1,.3,.4,.35,.5,0,.3,-.4,0,-.5,-.3,-.6,-.5,-.3,-.2,-.1];
const apHot3=[.2,-.1,.2,-.15,-.1,-.2,-.2,-.3,.05,-.35,.25,-.3];

const mcLow=[-4.3,4.9,-3.7,4.95,-2.2,4.95,-.6,4.9,.4,4.9,1.2,4.95,2.2,4.95,3.1,4.9,2.3,4.7,2.9,4.6,3.3,4.45,2.7,4.3,2.5,4.05,2.4,3.9,2.1,3.7,2,3.5,2.5,3.2,2,3,1.8,2.85,2.2,2.8,1.2,2.5,1,2.4,.9,3.4,.8,4.3,.4,4.5,.2,3.5,.2,3.1,.4,2.7,0,2.7,-.1,2.9,-.5,2.6,-.9,2.6,-1,3.1,-1.6,2.5,-2.2,2.5,-2.5,2.7,-2.6,3.2,-2.9,3.3,-3.7,3.1,-4.7,3.3,-4.65,2.9,-4.8,2.7,-4.5,2.6,-4.2,2.6,-4.5,2.3,-4.3,2.1,-3.9,2.1,-3,2.3,-3.3,1.6,-3.5,1,-2.7,1.6,-2.5,1.5,-2.6,.85,-3.1,.4,-3.4,.5,-3.9,.35,-4.2,.2,-2.4,.5,-2.4,.1,-4.3,-2.4,-4.1,-2.7,-3.9,-2.9,-3.8,-3.2,-3.5,-3.4,-3.6,-3.6,-3.2,-2.8,-2.8,-2.6,-2.5,-2.2,-2.6,-1.8,-2.3,-1.9,-2,-1.8,-1.7,-2,-1.6,-2.1,-1.3,-1.9,-1.2,-1.4,-.9,-1.3,-.7,-1.5,-.4,-1.5,-.1,-1.4,.2,-1.2,-.4,-1,-2,-2.3,-2.2,-2.55,-2,-2.8,-1.6,-2.6,-1.3,-2.65,-1.4,-3,-1.3,-3.2,-1,-3,-.8,-3.2,-.5,-3,-.1,-2.6,.1,-2.3,.1,-1.9,.3,-3.1,.7,-3.2,.8,-3.5,1.2,-3,1.5,-2.8,1.9,-2.7,2.1,-2.4,3.2,-2.9,2.7,-2.9,3.2,-3.4,1.3,-3.7,3.3,-4,2.2,-3.9,1.9,-4,1.7,-4.4,2.6,-4.6,2.9,-4.7,2.4,-4.95,4.1,-.8,4,-1.2,3.9,-1.6,3.7,-2,3.9,-2.3,3.4,-1.9,3.6,0,3.7,-.4,3.3,0,2.9,.1,1.4,.05,1.5,-.05,1.1,-.4,1.2,-.9,.4,-.5,.5,-1,-.5,-.9,-.3,-.75,-1,-.9,-1.4,-.85];
const mcMid=[-4,2.3,-3.7,2.4,-2.9,2.2,-3.4,1.6,-3,1.6,-2.8,1.6,-3.1,1.1,-2.8,1.1,-2.6,.7,-2.5,.6,-3.2,.7,-3.5,.5,-3.7,.3,-3.3,.2,-2.9,.1,-.1,-1.1,.3,-1,-.7,-3,-.3,-3,-.6,-3.3,1.7,-3.6,1.9,-3.6,2.2,-3.4,2.4,-3.5,3,-3.5,3.1,-3.3,1.6,-2.9,2,-4.4,2,-4.5,2.8,-4.8,2.6,-5,4,-1.9,-3.5,-2.9,-3.2,-3,-2.9,-3,2.6,-3.9,2.8,-3.7,-1.7,-1.2,-1.4,-1.2,-2.7,-1.3,-2.4,-1.2,-2.2,-1.3,-2,-1.4];
const mcRows=[[.4,-3.9,-3.4,-3],[.1,-4.4,-4,-3.6,-3.2,-2.8],[-.2,-4.6,-4.2,-3.8,-3.4,-3,-2.7],[-.5,-4.8,-4.4,-4,-3.6,-3.2,-2.8],[-.8,-4.9,-4.5,-4.1,-3.7,-3.3,-2.9,-2.6],[-1.1,-4.9,-4.6,-4.2,-3.8,-3.4,-3,-2.6],[-1.4,-5,-4.6,-4.2,-3.8,-3.4,-3,-2.7],[-1.7,-4.9,-4.5,-4.2,-3.8,-3.4,-3,-2.7],[-2,-4.8,-4.4,-4,-3.6,-3.2,-2.9],[-2.3,-4.2,-3.8,-3.4,-3.1],[-2.6,-3.9,-3.5],[4.9,-4.2,-3.8,-3.4,-3,-2.6,-2.2,-1.8,-1.4,-1],[4.6,-4.4,-4,-3.6,-3.2,-2.8,-2.4,-2,-1.6,-1.2,-.8,.9],[4.3,-4.6,-4.2,-3.8,-3.4,-3,-2.6,-2.2,-1.8,-1.3,-.8,-.3,.6,1],[4,-4.4,-4,-3.6,-3.2,-2.8,-2.4,-2,-1.5,-1,-.5,.1,.9],[3.7,-4.2,-3.8,-3.4,-3,-2.6,-2.1,-1.6,-.7,-.3,.5,1.1],[3.4,-4.1,-3.7,-3.2,-2.9,-1.1,-.7,-.3,.4,.9,1.3],[3.1,-4,-3.6,-3.2,-1.7,-1.2,-.8,-.4,.4,1.1,1.5,1.8],[2.8,-3.8,-3.4,-1,-.5,.5,1.3,1.7,2],[-.9,.9,1.3,2.2,2.6,3,3.4,3.8,4.2],[-1.2,.9,1.3,1.7,2.1,2.5,2.9,3.3,3.7],[-1.5,.3,.7,1.1,1.5,1.9,2.3,2.7,3.1,3.5],[-1.8,.3,.7,1.1,1.5,1.9,2.3,2.7,3.1],[-2.1,.7,1.1,1.5,1.9,2.3,2.7],[-2.4,1,1.3,1.7,2.1]];
const mcRows2=[[.25,-4.1,-3.7,-3.3,-2.9],[-.05,-4.5,-4.1,-3.8,-3.4,-3,-2.6],[-.35,-4.7,-4.3,-3.9,-3.5,-3.1,-2.7],[-.65,-4.9,-4.5,-4.2,-3.8,-3.4,-3,-2.7],[-.95,-5,-4.7,-4.3,-3.9,-3.5,-3.1,-2.8],[-1.25,-4.8,-4.4,-4,-3.6,-3.2,-2.8],[-1.55,-4.8,-4.4,-4,-3.6,-3.2,-2.8],[-1.85,-5,-4.6,-4.3,-3.9,-3.5,-3.1],[-2.15,-4.6,-4.1,-3.7,-3.3,-3],[-2.45,-4,-3.6,-3.2],[4.75,-4.3,-3.9,-3.6,-3.1,-2.7,-2.3,-1.9,-1.5,-1.1],[4.45,-4.5,-4.1,-3.7,-3.3,-2.9,-2.5,-2.1,-1.7,-1.1,-.6],[4.15,-4.5,-4.1,-3.7,-3.3,-2.9,-2.5,-2.1,-1.6,-1.1,-.6,.3,.8],[3.85,-4.3,-3.9,-3.5,-3.1,-2.7,-2.3,-1.8,-1.3,-.8,-.2,.6],[3.55,-4,-3.6,-3.1,-2.8,-2.4,-.9,-.5,.2,.7,1],[3.25,-3.9,-3.4,-3,-1.4,-1,-.6,.3,.7,1.2],[2.95,-3.7,-1.8,-1.2,-.7,-.2,.6,1.5],[-.75,1,2.3,2.8,3.2,3.6,4,4.4],[-1.05,1.1,1.6,1.9,2.3,2.7,3.1,3.5],[-1.35,.5,.9,1.3,1.7,2.1,2.5,2.9,3.3,3.7],[-1.65,.5,.9,1.3,1.7,2.1,2.5,2.9,3.3],[-1.95,.5,.9,1.3,1.7,2.1,2.5],[-2.25,.8,1.2,1.5,1.9,2.3]];
const mcDark=[-.6,3.4,-.5,3.5,.5,2.9,1.6,2.7,1.1,-.9,.6,-1.7,.8,-1.8,1.1,-1.9,1.2,-2.3,1.4,-2,1.7,-2.1,2,-2,2.4,-1.7,2.6,-1.5,2.9,-1.4,3.1,-1.5,3.3,-1.3,3.5,-.2,1,-1.6,1,-2.25,-3.7,2.3,-3.7,2.3,-2.8,2.2,-2.8,2.2,-3.2,-2.9,-3.6,-2.9,-3.3,-2.9,-.8,-3.3,-.6,-3.35,-.4,-3.3,-.2,-2.95,0,-2.95,1.8,-3.6,2.3,-3.5,2.9,-3.5,2,-4.4,2.8,-4.85,2.6,-4.9,-.3,3.3,-2.4,.7,-2.8,.5];
const mcHotRows=[[-.3,-4.3,-3.9,-3.6],[-.6,-4.5,-4.1,-3.7,-3.3],[-.9,-4.6,-4.2,-3.8,-3.4],[-1.2,-4.6,-4.2,-3.8,-3.4],[-1.5,-4.5,-4.1,-3.7],[4.7,-3.4,-3,-2.6,-2.2,-1.8],[4.3,-3.8,-3.4,-2.9,-2.4,-2],[4,-3.9,-3.5,-3],[-1.5,2.3,2.7,3.1],[-2,1,1.4,1.8]];

const j15Sparse=[.02,1.64,-.2,1.48,-.2,1.24,-.12,1.2,.08,1.1,-.6,1.13,.4,1.25,.52,1.25,.62,1.39,.6,1.22,.55,1.09,.72,1.15,1.38,1.35,.85,1.55,1,1.55,.92,.98,1.1,1.1,1,.85,1.65,1.15,1.8,1.1,2,1.15,2.2,1.1,2.4,1.1,2.45,.8,2.35,.65,2.2,.7,2.05,.65,1.9,.55,2.03,.27,1.75,.4,1.4,.55,1.5,.3,1.3,.4,.95,.8,.7,.85,.4,.95,.5,.7,.2,.7,-.35,.95,-.3,.85,-.4,.75,-.7,.85,-.8,.75,-.55,.68,-.85,.55,-.9,.45,-1.1,.3,-1.05,.05,-1.2,-.15,-1.55,-.28,-1.63,-.75,-1.4,-.45,-1.35,-.6,-1.2,-.8,-1.05,-.95,-1.35,-1.3,-1.2,-1.25,-1.2,-1.42,-1.05,-1.4,-1,-1.58,-.8,-1.62,-.75,-1.45,-.65,-1.25,-.5,-1.05,-.4,-1.05,-.08,-.9,.55,-.9,.57,-.85,.85,-.92,.9,-.8,.98,-.65,.7,-.5,.4,-.55,.3,-.6,.1,-.7,.15,-.45,1.4,-.1,1.2,-.25,1.1,-.35,.95,-.5,1.9,.05,1.75,-.05,.35,.4,.75,.55,-.45,.55,-.55,.5,-.2,.65,.05,.55];
const j15Rows=[[.75,-.75,-.6,-.45],[.6,-.8,-.65,-.5,-.35,-.2],[.5,-.85,-.7,-.55,-.4,-.25,.1,.25,.4],[.4,-.85,-.7,-.55,-.4,-.2,-.05,.1,.25,.4,.6,.75,.9],[.3,-.9,-.75,-.6,-.45,-.3,-.15,0,.15,.3,.45,.6,.75,.9,1.05],[.2,-.95,-.8,-.65,-.5,-.35,-.2,-.05,.1,.25,.4,.55,.7,.85,1],[.1,-.95,-.8,-.65,-.5,-.35,-.2,-.05,.1,.25,.4,.55,.7,.85],[0,-1,-.85,-.7,-.55,-.4,-.25,-.1,.05,.2,.35,.5,.65,.8,.95,1.1],[-.1,-1.05,-.9,-.75,-.6,-.45,-.3,-.15,0,.15,.3,.45,.6,.75,.9,1.05],[-.2,-1.05,-.9,-.75,-.6,-.45,-.3,-.15,0,.15,.3,.45,.6,.75,.9],[-.3,-1.1,-.95,-.8,-.65,-.5,-.35,-.2,-.05,.1,.25,.4,.55,.7],[-.4,-1.15,-1,-.85,-.7,-.55,-.4,-.25,-.1,.05,.2,.35,.5],[-.5,-1.2,-1.05,-.9,-.75,-.6,-.45,-.3,-.15,0,.15,.3],[-.6,-1.2,-1.05,-.9,-.75,-.6,-.45,-.3,-.15,.05,.3],[-.7,-1.15,-1,-.85,-.7,-.55,-.4,-.25],[-.8,-1.1,-.95,-.8,-.65,-.5,-.35],[-.9,-1.05,-.9,-.75,-.6,-.45],[-1,-1,-.85,-.7,-.55],[-1.1,-.95,-.8,-.65,-.5],[-1.2,-.95,-.75,-.6],[.7,.9,1.05,1.3,1.5,1.65,1.85],[.55,1,1.15,1.4,1.6],[.4,1.05,1.2,1.4,1.55,1.75],[.2,1.15,1.3,1.4,1.6,1.8],[.05,1.1,1.3,1.5,1.65],[-.1,1.15,1.35],[-.2,.8,1],[-.4,.7,.85]];
const j15Rows2=[[.65,-.7,-.55,-.4,-.25],[.45,-.75,-.6,-.45,-.3,-.15,.2,.35],[.35,-.8,-.65,-.5,-.35,-.1,.05,.2,.35,.5,.7,.85],[.25,-.85,-.7,-.55,-.4,-.25,-.1,.05,.2,.35,.5,.65,.8,.95],[.15,-.9,-.75,-.6,-.45,-.3,-.15,0,.15,.3,.45,.6,.75,.9],[.05,-.9,-.75,-.6,-.45,-.3,-.15,0,.15,.3,.45,.6,.75,.9,1.05],[-.05,-1,-.85,-.7,-.5,-.35,-.2,-.05,.1,.25,.4,.55,.7,.85,1],[-.15,-1,-.85,-.7,-.55,-.4,-.25,-.1,.05,.2,.35,.5,.65,.8],[-.25,-1.05,-.9,-.75,-.55,-.4,-.25,-.1,.05,.2,.35,.5,.65],[-.35,-1.1,-.95,-.8,-.6,-.45,-.3,-.15,0,.15,.3,.45,.6],[-.45,-1.15,-1,-.85,-.65,-.5,-.35,-.2,-.05,.1,.25],[-.55,-1.15,-1,-.85,-.65,-.5,-.35,-.2,-.05,.2],[-.65,-1.1,-.95,-.8,-.65,-.5,-.35],[-.75,-1.05,-.9,-.75,-.6,-.45,-.3],[-.85,-1,-.85,-.7,-.55,-.4],[-.95,-.95,-.8,-.65,-.5],[-1.05,-1,-.85,-.7,-.55],[-1.15,-.85,-.7,-.55],[.65,.95,1.2,1.4,1.6,1.75],[.45,.95,1.1,1.3,1.5,1.7],[.3,1.1,1.25,1.5,1.7],[.1,1.2,1.4,1.55,1.75],[-.05,1.05,1.2,1.45]];
const j15Clump=[-.9,-.5,-.85,-.7,-.75,-.55,-.6,-.5,-.5,-.75,-.55,-.75,-.7,-.7,-.65,-.4,-.55,-.2,-.45,-.1,-.3,0,-.2,-.05,-.1,.05,.05,.05,.1,-.15,.2,.1,.3,.25,.35,-.1,.5,.25,.5,.1,.7,.15,.75,.3,.9,.3,.9,.45,1,.5,.95,.05,1,.05,1.05,.05,.95,1.4,1,1.45,1.02,1.3,1,1.25,.95,1.05,1.1,1.05,.9,.95,1.5,.8,1.55,.75,1.7,.8,1.9,.75,1.4,.25,1.55,.3,1.5,.15,1.7,.25,1.7,.1,1.75,.1,2.2,.95,2.3,.97,2.35,.95,-.7,.2,-.65,-.1,-.85,-.1];
const j15Hot=[.1,-.05,.15,0,.2,.1,.35,.1,.55,.1,.65,.05,.4,.15,-.45,-.3,.15,-.05];
const j15Hot2=[1.55,.95,1.55,.9,1.6,.92];

const j1aSparse=[3.8,4.85,4.1,4.7,4.5,4.65,4.3,4.25,5,4.25,4.95,3.65,5,3.4,4.8,2.95,4.8,2.55,4.15,2.45,4,2.15,4.1,1.95,4,1.7,4.3,1.7,4.3,1.7,4.4,1.7,4.15,1.3,2.3,1.2,2.7,1,2.55,1.05,2.9,1.25,3.1,1.3,3.3,1.3,3.4,1.25,3.25,1.05,3.05,.9,3.6,.9,3.35,.55,3.7,.55,3.55,.25,3.2,-.2,3.25,-.2,3.25,-.45,2.6,-.45,2.85,-1.1,4.35,-.45,4.5,-.9,4.4,-.8,4.55,-.55,4.9,-.4,4.85,-.85,4.8,-1,4.9,-1.2,4.7,-1.2,4.65,-1.5,4.9,-1.75,-1.2,1.7,-1.2,1.05,-1.05,1.4,-1.3,1.2,-.8,1,-.5,.85,-.25,1.1,0,1.05,.1,1.1,.7,1.25,.9,1.25,-1.05,1.3,-2.3,.9,-3.2,.45,-2.5,.55,-2.2,.55,-3.5,-.3,-3.8,-.85,-3.4,-.9,-3.5,-1.5,-3.6,-1.6,-2.75,-2,-2.6,-2.05,-2.5,-1.8,-2.2,-1.6,-1.7,-1.3,-1.4,-1.35,-.95,-1.3,-.6,-1,-.05,-.3,.35,.1,.6,.3,.85,.1,.25,.5,-.55,-2.65,-.4,-2.6,-.4,-2.8,.45,-2.2,-.2,-3,.9,-2.9,.7,-3.1,.8,-2.9,.1,-3.35,.2,-3.55,-.2,-3.75,.35,-3.5,.45,-3.4,.35,-3.7,.45,-3.8,.35,-3.95,.45,-4.05,.45,-4.25,.45,-4.5,1,-3.65,-.2,-4.8,1.3,-4.1,1.55,-4,1.7,-4.05,1.8,-4.15,2.5,-2.3,2.4,-2.6,3.35,-2.55,2.9,-2.8,3.05,-2.9,1.5,-3.05,-1.8,.9];
const j1aRows=[[.4,-2.3,-2,-1.8],[.2,-2.5,-2.25,-2,-1.75,-1.5],[0,-2.6,-2.35,-2.1,-1.85,-1.6,-1.35,-1.1],[-.2,-2.7,-2.45,-2.2,-1.95,-1.7,-1.45,-1.2,-.95,-.7],[-.4,-2.8,-2.55,-2.3,-2.05,-1.8,-1.55,-1.3,-1.05,-.8,-.55],[-.6,-2.95,-2.7,-2.45,-2.2,-1.95,-1.7,-1.45,-1.2,-.95,-.7],[-.8,-3.05,-2.8,-2.55,-2.3,-2.05,-1.8,-1.55,-1.3],[-1,-3.1,-2.85,-2.6,-2.35,-2.1,-1.85,-1.6],[-1.2,-3.05,-2.8,-2.55,-2.3,-2.05,-1.85],[-1.4,-3,-2.75,-2.5,-2.25],[-1.6,-2.85,-2.6,-2.4],[.8,-2.4,-2,.3,.5,.7],[.6,-.1,.15,.4,.65],[.4,-.4,-.15,.1,.35,.6],[.2,-.7,-.5,-.2,.1,.35],[.6,-1.3,-1,-.7]];
const j1aRows2=[[.3,-2.4,-2.15,-1.9,-1.65],[.1,-2.5,-2.2,-1.95,-1.7,-1.45,-1.2],[-.1,-2.65,-2.4,-2.15,-1.9,-1.6,-1.3,-1.05,-.8],[-.3,-2.7,-2.45,-2.2,-1.95,-1.7,-1.4,-1.15,-.9,-.65],[-.5,-2.9,-2.6,-2.35,-2.1,-1.85,-1.6,-1.3,-1.1,-.85,-.6],[-.7,-3,-2.75,-2.5,-2.25,-2,-1.75,-1.5,-1.2,-1],[-.9,-3.2,-2.9,-2.65,-2.4,-2.15,-1.9,-1.65,-1.4],[-1.1,-3.15,-2.9,-2.65,-2.4,-2.2,-1.95,-1.7],[-1.3,-3.1,-2.85,-2.6,-2.35,-2.1],[-1.5,-2.9,-2.65,-2.45,-2.2],[.7,.1,.35,.55,.75,-.05],[.5,-.25,0,.25,.5,.75],[.3,-.55,-.3,-.05,.2,.45,.65],[.1,-.85,-.6,-.35,-.1,.15],[.75,-1.1,-.85,-.6]];
const j1aMid=[3.6,4.7,3.7,4.55,3.9,4.5,4,3.95,4.05,3.95,4.15,4,4.25,1.7,2.3,-2.85,2.1,-2.9,2.6,-2.9,2.85,-3,2.9,-3.35,2.3,-3.9,2.1,-3.8,2.6,-3.85,1.9,-3.2,1.95,-2.95,-2.7,1,-2.85,.8,-2.55,1.1];
const j1aClump=[-2.75,1.25,-2.7,1.15,-1.9,1.6,-1.85,1.6,-1.6,.8,-1.6,.75,3.55,4.7,3.6,4.65,3.65,4.55,3.8,4.45,2,-3.4,1.9,-3.4,1.85,-3.45,2.1,-3.25,2.2,-3.05,2.35,-3.1,2.45,-3.3,2.7,-3.3,2.75,-3.2,2.6,-3.5,2.45,-3.7,2.4,-3.85,2.5,-3.8,2.8,-3.4,-.5,-.5,-.45,-.55];
const j1aHot=[-1.45,-.05,-1.45,-.1,-2.7,-1.1,-2.2,-.5];

const j1bSparse=[-1.4,4.95,-1.7,4.95,-.7,4.95,-.4,4.9,-.1,4.85,1,4.85,.2,4.75,.55,4.65,-2.5,4.7,-2.1,4.8,-1.7,4.7,-1.4,4.6,-1,4.55,-.8,4.45,-.5,4.4,-2.35,4.4,-1.9,4.3,-.2,4.3,.3,4.1,-.4,3.85,-1.5,3.8,-1.6,3.7,-2.4,3.7,-2.8,3.9,-3.2,4.1,-3.1,4.2,-3.9,3.65,-3.9,3.65,-3.6,3.45,-3.3,3.25,-2.9,3.4,-2.6,3.3,-2.3,3.3,-2,3.45,-1.6,3.4,-1.2,3.3,-.7,3.25,-.3,3.1,0,3.4,.2,3.5,.3,3,.5,3,.5,3.6,.9,3.6,1.4,3.7,1.5,3.4,2,3.3,2.5,3.3,2.6,3.4,3.8,3.1,4,3.2,4.7,3.75,5,4.35,-3.3,2.55,-2.9,2.9,-2.7,2.8,-2.4,2.9,-1.8,2.9,-1.8,2.6,-1.5,2.65,-1.4,2.3,-1.1,2.3,-.6,2.2,-.5,2.55,-.3,2.3,.2,2.4,.5,2.2,-3.3,2.55,-2.8,2,-2.2,1.95,-2,1.7,-2.6,1.6,-3,1.7,-3.4,1.65,-3.7,1.6,-4.1,1.75,-4.3,1.5,-5,1.4,-4.7,1.3,-4.9,1,-4.7,.9,-4.5,.65,-4.8,.55,-4.3,.4,-3.6,.75,-3.6,.1,-3.6,-.25,-4.3,-.3,-4.4,-.5,-4.9,-.8,-4.7,-1.3,-5,-1.5,-2.7,-.1,-3.2,-.15,-2.6,.2,-2.1,.85,-1.8,1,-1.8,.7,-1.6,.55,-1.3,.6,-.3,.55,1.5,.4,1.95,.45,2,.95,2.3,1.2,2.4,1.05,3.2,2.1,2.9,1.9,3.1,1.8,3.5,1.7,3.5,2.45,4.2,2.3,3.8,2.2,3.9,2.75,3.3,2.6,2.9,2.55,4.25,2.65,1.5,-.8,2,-.8,1.5,-1.1,.9,-1,.7,-1.05,.3,-1.1,.4,-1.9,-.05,-2.6,.2,-2.6,.4,-2.5,.8,-2.7,.9,-2.9,0,-3.05,.8,-3.35,1.4,-3.4,2.05,-3.3,2.6,-3.3,2.85,-3.75,2.2,-4,1.7,-4.6,-1.3,-.4,-.7,-.3,-.3,-.5,.5,-.5,1,-.1,1.4,-.4,-4.1,-2,-3.9,-2.15,-3.5,-2.25,-4.6,-2.85,-4.4,-2.95,-3.95,-1.55,-2.9,-4.2,-2.5,-4.55,-2.35,-4.45,-.1,-.1,.1,-.05,-4.8,-.7];
const j1bRows=[[2.9,1.7,2.1],[2.6,1.2,1.5,1.8,2,2.2,2.5],[2.4,1.3,1.6,1.9,2.1],[2.2,1.4,1.7,2.1,2.4],[2,1,1.6,1.9],[1.8,.9,1.2,1.6],[-.1,-1.9,-1.6,-1.2],[-.7,-2.4,-2,-1.6,-1.2,-.8],[-1,-2.6,-2.2,-1.8,-1.4],[.6,.4,.8,1.3],[.9,.1,.5,.9],[1.2,-.2,.2,.8]];
const j1bMid=[-.6,1.7,-.4,1.55,-.4,1.3,-.1,1.6,.2,1.5,.5,1.75,.9,2.05,1.1,1.95,1.3,1.6,1.6,1.4,3.5,2.5,3.55,2.5,-4.3,-2.8,-4.2,-2.7,-3.1,-.6,-2.9,-.85,-2.8,-1.2,-2.5,-.5,-2.2,-.35,-2,-.6,-1.7,-.9,-1.6,-.3,-1.4,-.85,-1.2,-.6,-1,-.2,-.9,-.6,-4.4,-1.35,-3.4,-1.4,-3.4,-1.7,-3.1,-1.85,-2.8,-1.9,-2.7,-1.75,-2.8,-2,.1,.35,.4,.2,.5,-.5,.1,.6,.4,1.05,1.2,.75,1.6,.95,-1.6,-2.45,-2.7,-2.85,-2.9,-4.9,-2.4,-4.9,-1.7,-2,-4.6,.2,-5,0,-4.6,.4];
const j1bClump=[.55,2.05,.55,2.05,.2,1.4,.4,1.45,.55,1.4,.7,1.3,.45,1.2,.5,.95,.7,.8,.85,.75,.75,.75,1.35,.7,1.85,.7,1.9,.75,-.75,1.1,-.7,1.1,-.2,0,0,.05,-.5,-.05,-.5,-.35,-.85,-.05,-1.05,0,-1.1,-.05,-1.9,-.2,-1.85,-.25,-2.1,-1.3,-2.9,-1.3,-2.8,-1.3,-1.35,-1.3,-1.3,-1.05,-1.2,-1.3,-1.25,-.95,-3.4,-1.3,-2.45,-2.2,-2.5,-2.25,-2.1,-2.25,-1.9,-2.55,-2.45,-3.15,-2.5,-3.2,-1.7,-3.2,-1.5,-3.15,-1.6,-3.4,-1.45,-3.45,-1.55,-3.35,-2.85,-3.5,-2.7,-3.5,-3,-3.65,-2.75,-3.95,-2.7,-4.05,-2.6,-4.05,-2.65,-4.85,-2.8,-4.8,.3,-4.75,.4,-4.9,1.1,-4.95,1.3,-4.95,1.6,-4.95,1.85,-4.95,2,-5,.2,-.05,.45,-.55,.5,-.5];
const j1bHot=[.2,.75,.25,.75,.8,.7,-1.05,-.02,-.5,-.05];

const titles=['m1.e4','m4.e4','m9.e4','NMMC s=1.0','APES (L=80, Student kernel)','MCMC (s=0.25)',
 '{i|J}{r|\u2009=\u20091.5, }{i|M}{r|\u2009=\u20097.2}{i|M}{s|10³ ⊙}','{i|J}{r|\u2009=\u20091, }{i|M}{r|\u2009=\u200913.5}{i|M}{s|10³ ⊙}','{i|J}{r|\u2009=\u20091, }{i|M}{r|\u2009=\u200932.2}{i|M}{s|10³ ⊙}'];
const cbMin=[.05,.05,.07,.03,.01,.03,.03,.05,.05];
const cbMax=[10.1,6.62,16,2.5,3.83,5.1,7.34,34,15.5];
const cbTicks=[[5,10],[2,4,6],[5,10,15],[1,2],[1,2,3],[2,4],[2,4,6],[10,20,30],[5,10,15]];
const xRange=[5,5,5,5,5,5,2.5,5,5];
const yTicksWide=[-5,-2.5,0,2.5,5];
const yTicksNarrow=[-2,0,2];
const flat=rows=>rows.flatMap(([y,...xs])=>xs.flatMap(x=>[x,y]));
// each entry: list of x,y, colour value, times overplotted
const lists=[
 [[m1Sparse,.4,1],[flat(m1Rows),.4,3],[flat(m1Rows2),.4,3],[m1Clump,.5,4],[m1Hot,3,4],[m1Hot2,5.5,3]],
 [[m4Sparse,.2,1],[flat(m4Rows),.3,2],[flat(m4Rows2),.3,2],[m4Clump,.4,3],[m4Dark,.4,4],[m4Hot,1.8,3],[m4Hot2,3.2,3]],
 [[m9Sparse,.5,1],[flat(m9SparseRows),.5,1],[m9Mid,.8,2],[flat(m9Rows),.7,2],[flat(m9Rows2),.7,2],[m9Clump,1,4],[m9Hot,3.5,3],[m9Hot2,10,4]],
 [[flat(nmOuterRows),.35,1],[flat(nmOuterRows2),.35,1],[flat(nmPurpleRows),.7,2],[flat(nmPurpleRows2),.7,2],[flat(nmRedRows),1.1,2],[flat(nmRedRows2),1.1,2],[flat(nmOrangeRows),1.5,2],[flat(nmOrangeRows2),1.5,2],[nmHot,1.85,2],[nmHot2,2.2,2]],
 [[apOuter,.25,1],[flat(apOuterRows),.25,1],[apRing,.5,1],[flat(apRingRows),.55,2],[flat(apRingRows2),.55,2],[flat(apCoreRows),.95,2],[flat(apCoreRows2),.95,2],[apHot,1.5,3],[apHot2,2,3],[apHot3,2.9,3]],
 [[mcLow,.4,1],[mcMid,.7,2],[flat(mcRows),.7,2],[flat(mcRows2),.7,2],[mcDark,.9,3],[flat(mcHotRows),1.4,2]],
 [[j15Sparse,.25,1],[flat(j15Rows),.35,3],[flat(j15Rows2),.35,2],[j15Clump,.6,5],[j15Hot,1.8,4],[j15Hot2,4,4]],
 [[j1aSparse,.8,1],[flat(j1aRows),.9,3],[flat(j1aRows2),.9,3],[j1aMid,1.2,3],[j1aClump,2,6],[j1aHot,7,3]],
 [[j1bSparse,.4,1],[flat(j1bRows),.5,2],[j1bMid,.6,2],[j1bClump,1,6],[j1bHot,3,4]]
];
const plasma=['#0d0887','#46039f','#7201a8','#9c179e','#bd3786','#d8576b','#ed7953','#fb9f3a','#fdca26','#f0f921'];

// ---------- layout ----------
const colLeft=[111,486,862], rowTop=[51,418,786], plotW=184, plotH=231;
const font='DejaVu Sans', ink='#111';
const rgba=h=>`rgba(${parseInt(h.slice(1,3),16)},${parseInt(h.slice(3,5),16)},${parseInt(h.slice(5,7),16)},0.2)`;
const minus=s=>String(s).replace('-','\u2212');
function expand(groups){const out=[];groups.forEach(([a,c,n])=>{for(let k=0;k<n;k++)for(let i=0;i+1<a.length;i+=2)out.push([a[i],a[i+1],c]);});return out;}

const grid=[],xAxis=[],yAxis=[],series=[],visualMap=[],title=[];
titles.forEach((t,i)=>{
 const col=i%3,row=Math.floor(i/3),L=colLeft[col],T=rowTop[row];
 const g=grid.length, wr=xRange[i], narrow=i===6;
 title.push({text:t,left:L+plotW/2-(row===2?3:5),top:row===2?T-52:row===1?T-50:T-48,textAlign:'center',
  textStyle:{fontFamily:font,fontSize:30,fontWeight:'normal',color:ink,
   rich:{r:{fontFamily:font,fontSize:30,color:ink},i:{fontFamily:font,fontSize:30,fontStyle:'italic',color:ink},
   s:{fontFamily:font,fontSize:21,fontStyle:'normal',color:ink,padding:[18,0,0,1]}}}});
 grid.push({left:L,top:T,width:plotW,height:plotH,show:true,backgroundColor:'#e5e5e5',borderWidth:0});
 xAxis.push({gridIndex:g,type:'value',min:-wr,max:wr,interval:wr,name:'x (pc)',nameLocation:'middle',nameGap:40,
  nameTextStyle:{fontFamily:font,fontSize:24,color:ink},
  axisLine:{show:false,onZero:false},axisTick:{show:true,length:5,lineStyle:{color:'#333'}},
  axisLabel:{fontFamily:font,fontSize:24,color:ink,margin:8,hideOverlap:false,showMinLabel:true,showMaxLabel:true,
   formatter:v=>minus(wr===5?v:v.toFixed(1))},
  splitLine:{show:true,lineStyle:{color:'#fff',width:1.2}}});
 const yt=narrow?yTicksNarrow:yTicksWide;
 yAxis.push({gridIndex:g,type:'value',min:narrow?-2.5:-5,max:narrow?2.5:5,name:'y (pc)',nameLocation:'middle',nameGap:narrow?50:76,
  nameTextStyle:{fontFamily:font,fontSize:24,color:ink},
  axisLine:{show:false,onZero:false},axisTick:{show:true,length:5,lineStyle:{color:'#333'},customValues:yt},
  axisLabel:{fontFamily:font,fontSize:24,color:ink,margin:11,customValues:yt,showMinLabel:true,showMaxLabel:true,
   formatter:v=>minus(narrow?v:v.toFixed(1))},
  splitLine:{show:true,lineStyle:{color:'#fff',width:1.2}}});
 series.push({type:'scatter',xAxisIndex:g,yAxisIndex:g,data:expand(lists[i]),symbolSize:7.5,clip:true,silent:true,
  progressive:0,large:false,animation:false,
  itemStyle:{opacity:1,borderColor:'rgba(0,0,0,0.2)',borderWidth:1}});
 visualMap.push({type:'continuous',seriesIndex:series.length-1,dimension:2,min:cbMin[i],max:cbMax[i],
  left:L+195,top:T-1,itemWidth:12,itemHeight:plotH,text:null,showLabel:false,calculable:false,hoverLink:false,padding:0,
  inRange:{color:plasma.map(rgba)},outOfRange:{color:['rgba(0,0,0,0)']}});
 const cg=grid.length;
 grid.push({left:L+195,top:T-1,width:12,height:plotH,show:true,backgroundColor:'#e5e5e5',borderWidth:0});
 xAxis.push({gridIndex:cg,type:'value',min:0,max:1,show:false});
 yAxis.push({gridIndex:cg,type:'value',position:'right',min:cbMin[i],max:cbMax[i],
  axisLine:{show:false,onZero:false},axisTick:{show:true,length:5,lineStyle:{color:'#333'},customValues:cbTicks[i]},
  axisLabel:{fontFamily:font,fontSize:24,color:ink,margin:11,customValues:cbTicks[i]},splitLine:{show:false}});
});
const chart=echarts.init(document.getElementById('c'),null,{renderer:'canvas',width:1116,height:1083});
chart.setOption({animation:false,backgroundColor:'#fff',title,grid,xAxis,yAxis,series,visualMap});
</script></body></html>
